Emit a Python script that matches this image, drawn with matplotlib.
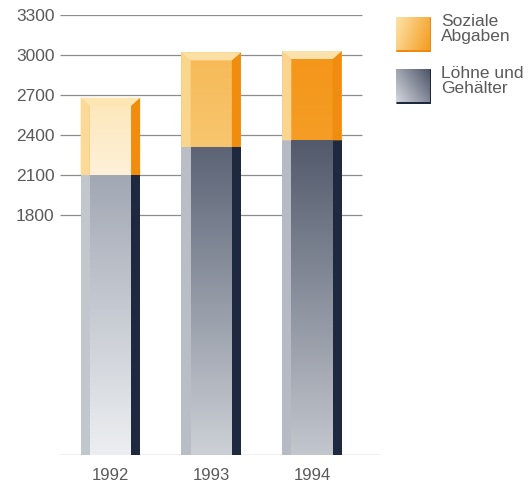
import matplotlib.pyplot as plt
import numpy as np
from matplotlib.colors import to_rgb
from matplotlib.patches import Polygon

plt.rcParams['font.family'] = ['Liberation Sans', 'DejaVu Sans']

years = ['1992', '1993', '1994']
loehne = [2100, 2310, 2360]          # Löhne und Gehälter
soziale = [580, 710, 670]            # Soziale Abgaben (stacked on top)
yticks = [1800, 2100, 2400, 2700, 3000, 3300]

# per-year shading of the bar faces (top colour, bottom colour)
loehne_face = [('#a2a8b4', '#eceef1'), ('#5c6476', '#ccd0d6'), ('#525a6c', '#c2c6cd')]
loehne_left = ['#c2c6cd', '#b9bdc6', '#b6bac4']
soziale_face = [('#fde8bd', '#fef1d8'), ('#f6ba58', '#f8c66f'), ('#f4961a', '#f59d25')]
soziale_left = ['#fad999', '#f9d58e', '#fbd490']
soziale_top = ['#fde6b2', '#fbe0a6', '#fbe2ad']
right_dark = '#1e2940'
right_orange = '#f08c0e'
text_grey = '#5a5a5a'

W = 0.59      # bar width
S = 0.09      # side strip width
BEV = 60      # bevel height in data units

fig = plt.figure(figsize=(5.28, 4.83), dpi=100)
ax = fig.add_axes([60 / 528, 28 / 483, 320 / 528, 440 / 483])
x = np.arange(len(years))


def vgrad(ax, x0, x1, y0, y1, ctop, cbot):
    t = np.linspace(0, 1, 64)[:, None]
    a, b = np.array(to_rgb(ctop)), np.array(to_rgb(cbot))
    img = (a * (1 - t) + b * t)[:, None, :].repeat(2, axis=1)
    ax.imshow(img, extent=(x0, x1, y0, y1), aspect='auto', origin='upper',
              interpolation='bicubic', zorder=3)


# grid lines and baseline
ax.hlines(yticks, -0.5, 2.5, color='#8c8c8c', lw=0.9, zorder=1)
ax.axhline(0, color='#8c8c8c', lw=0.9, zorder=1)

# lower segment: Löhne und Gehälter
bars_l = ax.bar(x, loehne, width=W, color='#b0b5c0', zorder=2)
for i, b in enumerate(bars_l):
    x0, x1, h = b.get_x(), b.get_x() + b.get_width(), b.get_height()
    vgrad(ax, x0 + S, x1 - S, 0, h, *loehne_face[i])
    ax.bar(x0 + S / 2, h, width=S, color=loehne_left[i], zorder=4)
    ax.bar(x1 - S / 2, h, width=S, color=right_dark, zorder=4)

# upper segment: Soziale Abgaben with bevelled top
bars_s = ax.bar(x, soziale, width=W, bottom=loehne, color='#f8c66f', zorder=2)
for i, b in enumerate(bars_s):
    x0, x1 = b.get_x(), b.get_x() + b.get_width()
    y0 = b.get_y()
    top = y0 + b.get_height()
    vgrad(ax, x0 + S, x1 - S, y0, top - BEV, *soziale_face[i])
    ax.add_patch(Polygon([(x0, y0), (x0 + S, y0), (x0 + S, top - BEV), (x0, top)],
                         closed=True, color=soziale_left[i], lw=0, zorder=4))
    ax.add_patch(Polygon([(x1 - S, y0), (x1, y0), (x1, top), (x1 - S, top - BEV)],
                         closed=True, color=right_orange, lw=0, zorder=4))
    ax.add_patch(Polygon([(x0, top), (x1, top), (x1 - S, top - BEV), (x0 + S, top - BEV)],
                         closed=True, color=soziale_top[i], lw=0, zorder=4))

ax.set_xlim(-0.5, 2.675)
ax.set_ylim(0, 3300)
ax.set_yticks(yticks)
ax.set_yticklabels([str(v) for v in yticks], fontsize=12.5, color=text_grey)
ax.set_xticks(x)
ax.set_xticklabels(years, fontsize=12, color=text_grey)
ax.tick_params(axis='y', length=0, pad=4)
ax.tick_params(axis='x', length=0, pad=9)
for sp in ax.spines.values():
    sp.set_visible(False)


# legend swatches
def swatch(rect, c_light, c_dark, edge, diag):
    lax = fig.add_axes(rect)
    yy, xx = np.mgrid[0:1:64j, 0:1:64j]
    if diag == 'lr':
        t = np.clip(0.75 * xx + 0.25 * yy, 0, 1)
    else:
        t = np.clip(0.6 * xx + 0.4 * (1 - yy), 0, 1)
    a, b = np.array(to_rgb(c_light)), np.array(to_rgb(c_dark))
    img = a * (1 - t[..., None]) + b * t[..., None]
    lax.imshow(img, extent=(0, 1, 0, 1), aspect='auto', interpolation='bicubic')
    lax.plot([0, 1, 1], [0.02, 0.02, 1], color=edge, lw=2.2, solid_capstyle='butt')
    lax.set_xlim(0, 1)
    lax.set_ylim(0, 1)
    lax.axis('off')


swatch([396 / 528, 431 / 483, 35 / 528, 35 / 483], '#fde3a8', '#f49a1c', '#ee8a10', 'lr')
swatch([396 / 528, 379 / 483, 35 / 528, 35 / 483], '#d8dbe1', '#4a5266', right_dark, 'rl')

fig.text(441 / 528, 1 - 14 / 483, 'Soziale\nAbgaben', ha='left', va='top',
         fontsize=12.5, color=text_grey, linespacing=1.0)
fig.text(441 / 528, 1 - 66 / 483, 'Löhne und\nGehälter', ha='left', va='top',
         fontsize=12.5, color=text_grey, linespacing=1.0)

fig.savefig('out.png', dpi=100)
plt.close(fig)
